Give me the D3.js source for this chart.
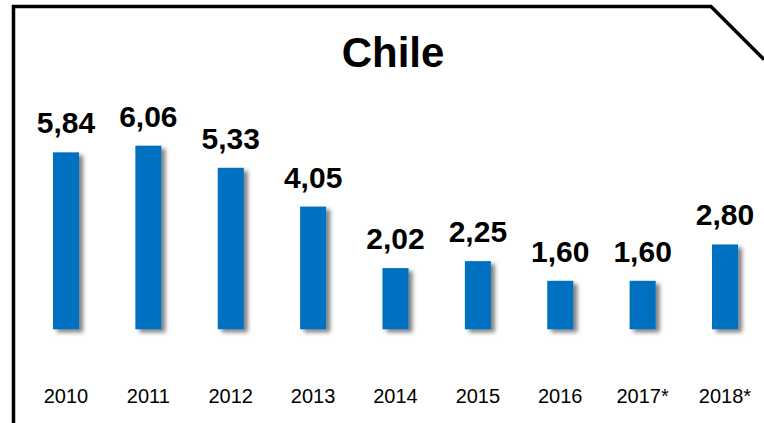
<!DOCTYPE html>
<html>
<head>
<meta charset="utf-8">
<script src="https://cdn.jsdelivr.net/npm/d3@7"></script>
<style>
  html, body { margin: 0; padding: 0; background: #fff; }
  svg { display: block; font-family: "Liberation Sans", Arial, sans-serif; }
</style>
</head>
<body>
<svg id="chart" width="764" height="423"></svg>
<script>
const title = "Chile";
const years = ["2010", "2011", "2012", "2013", "2014", "2015", "2016", "2017*", "2018*"];
const values = [5.84, 6.06, 5.33, 4.05, 2.02, 2.25, 1.60, 1.60, 2.80];

const W = 764, H = 423;
const svg = d3.select("#chart");

const locale = d3.formatLocale({ decimal: ",", thousands: ".", grouping: [3], currency: ["", ""] });
const fmt = locale.format(".2f");

const x = d3.scaleBand()
  .domain(years)
  .range([24.8, 766.2])
  .paddingInner(0.684)
  .paddingOuter(0.342);

const y = d3.scaleLinear()
  .domain([0, 7])
  .range([329.3, 329.3 - 7 * 30.3]);

const defs = svg.append("defs");
const shadow = defs.append("filter")
  .attr("id", "shadow")
  .attr("x", "-30%").attr("y", "-10%")
  .attr("width", "170%").attr("height", "130%");
shadow.append("feDropShadow")
  .attr("dx", 4).attr("dy", 3)
  .attr("stdDeviation", 2)
  .attr("flood-color", "#000")
  .attr("flood-opacity", 0.5);

// frame with the cut corner
svg.append("path")
  .attr("d", `M13.5,${H} L13.5,6.5 L711,6.5 L${W},59.5`)
  .attr("fill", "none")
  .attr("stroke", "#000")
  .attr("stroke-width", 3.5)
  .attr("stroke-linejoin", "miter");

svg.append("text")
  .attr("x", 393)
  .attr("y", 67)
  .attr("text-anchor", "middle")
  .attr("font-size", 42)
  .attr("font-weight", "bold")
  .attr("fill", "#000")
  .text(title);

const data = years.map((yr, i) => ({ year: yr, value: values[i] }));

svg.selectAll(".bar")
  .data(data)
  .join("rect")
  .attr("class", "bar")
  .attr("x", d => x(d.year))
  .attr("width", x.bandwidth())
  .attr("y", d => y(d.value))
  .attr("height", d => y(0) - y(d.value))
  .attr("fill", "#0070C0")
  .attr("filter", "url(#shadow)");

svg.selectAll(".val")
  .data(data)
  .join("text")
  .attr("class", "val")
  .attr("x", d => x(d.year) + x.bandwidth() / 2)
  .attr("y", d => y(d.value) - 19)
  .attr("text-anchor", "middle")
  .attr("font-size", 30)
  .attr("font-weight", "bold")
  .attr("fill", "#000")
  .text(d => fmt(d.value));

svg.selectAll(".yr")
  .data(data)
  .join("text")
  .attr("class", "yr")
  .attr("x", d => x(d.year) + x.bandwidth() / 2)
  .attr("y", 403)
  .attr("text-anchor", "middle")
  .attr("font-size", 20)
  .attr("fill", "#000")
  .text(d => d.year);
</script>
</body>
</html>
